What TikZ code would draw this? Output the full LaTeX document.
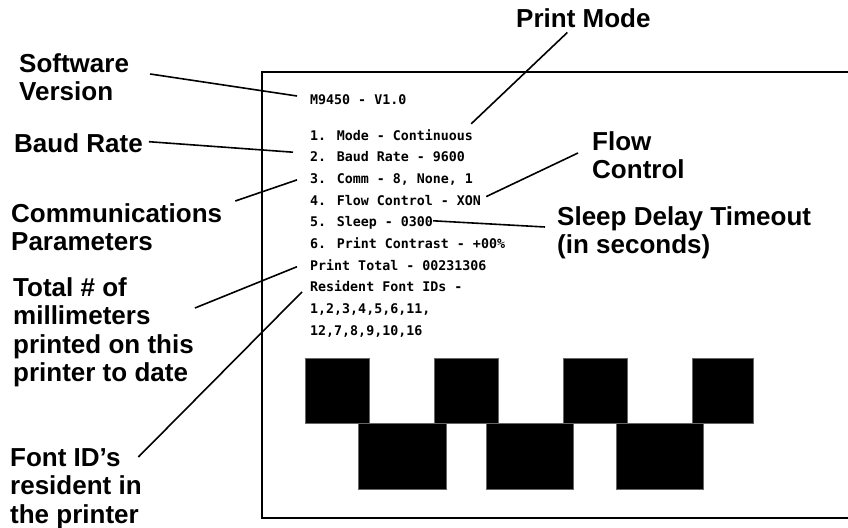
\documentclass[tikz,border=0pt]{standalone}
\usepackage{fontspec}
\usepackage{tikz}
\newfontfamily\CalloutFont{Liberation Sans}
\newfontfamily\ReadoutFont{DejaVu Sans Mono}
\usetikzlibrary{positioning}

\begin{document}
\begin{tikzpicture}[x=1pt,y=-1pt,
    callout/.style={font={\CalloutFont\bfseries\fontsize{26}{28.5}\selectfont},align=left,inner sep=0pt},
    readout/.style={font={\ReadoutFont\bfseries\fontsize{13.3}{16}\selectfont},inner sep=0pt,text height=10pt,text depth=3pt},
    nextline/.style={readout,below=8.3pt of #1.south west,anchor=north west},
    leader/.style={line width=1.6pt,black},
    label/.style={fill=black,draw=black!60,line width=.3pt}]

      \useasboundingbox (0,0) rectangle (848,527);

      % printout (open on the right)
      \draw[line width=1.8pt] (848,72) -- (262,72) -- (262,518) -- (848,518);

      \node[readout,anchor=base west] (ver) at (310,104) {M9450 - V1.0};
      \node[readout,anchor=base west] (rmode) at (310,140) {1. Mode - Continuous};
      \node[nextline=rmode] (rbaud) {2. Baud Rate - 9600};
      \node[nextline=rbaud] (rcomm) {3. Comm - 8, None, 1};
      \node[nextline=rcomm] (rflow) {4. Flow Control - XON};
      \node[nextline=rflow] (rsleep) {5. Sleep - 0300};
      \node[nextline=rsleep] (rcontr) {6. Print Contrast - +00\%};
      \node[nextline=rcontr] (rtotal) {Print Total - 00231306};
      \node[nextline=rtotal] (rfonts) {Resident Font IDs -};
      \node[nextline=rfonts] (rids) {1,2,3,4,5,6,11,};
      \node[nextline=rids] (rids2) {12,7,8,9,10,16};

      % test pattern
      \fill[label] (305,358) rectangle (369,423);
      \fill[label] (434,358) rectangle (498,423);
      \fill[label] (563,358) rectangle (627,423);
      \fill[label] (692,358) rectangle (753,423);
      \fill[label] (358,423) rectangle (446,489);
      \fill[label] (486,423) rectangle (573,489);
      \fill[label] (616,423) rectangle (703,489);

      \node[callout,anchor=base west] (pm) at (516,28) {Print Mode};
      \node[callout,anchor=north west] (sw) at (19,53) {Software\\Version};
      \node[callout,anchor=base west] (baud) at (14,152) {Baud Rate};
      \node[callout,anchor=north west] (comm) at (11,203) {Communications\\Parameters};
      \node[callout,anchor=north west] (total) at (13,277) {Total \# of\\millimeters\\printed on this\\printer to date};
      \node[callout,anchor=north west] (fid) at (10,448) {Font ID’s\\resident in\\the printer};
      \node[callout,anchor=north west] (fl) at (592,131) {Flow\\Control};
      \node[callout,anchor=north west] (sl) at (557,206) {Sleep Delay Timeout\\(in seconds)};

      \draw[leader] ([shift={(21,21)}]sw.north east) -- ([shift={(-13,-4.5)}]ver.west);
      \draw[leader] ([shift={(6,-1)}]baud.east) -- ([shift={(-17,-6)}]rbaud.west);
      \draw[leader] ([shift={(13,-2)}]comm.north east) -- ([shift={(-13,0)}]rcomm.west);
      \draw[leader] ([shift={(1,31)}]total.north east) -- ([shift={(-13,0)}]rtotal.west);
      \draw[leader] ([shift={(-3.5,9)}]fid.north east) -- ([shift={(-8,3.5)}]rfonts.west);
      \draw[leader] ([shift={(-16,4)}]pm.south) -- ([shift={(-2,-6)}]rmode.north east);
      \draw[leader] ([shift={(-14,22)}]fl.north west) -- ([shift={(5,-5)}]rflow.east);
      \draw[leader] ([shift={(-12,21)}]sl.north west) -- ([shift={(0,-2.5)}]rsleep.east);
    \end{tikzpicture}
\end{document}
